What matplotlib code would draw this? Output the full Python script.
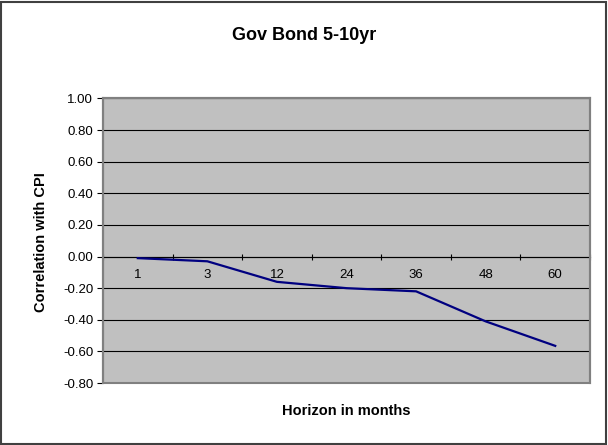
import matplotlib.pyplot as plt
from matplotlib.patches import Rectangle
from matplotlib.ticker import FixedLocator, NullFormatter

plt.rcParams["font.family"] = ["Liberation Sans", "DejaVu Sans"]

horizons = ["1", "3", "12", "24", "36", "48", "60"]
correlation = [-0.01, -0.03, -0.16, -0.20, -0.22, -0.41, -0.565]
y_ticks = [-0.8, -0.6, -0.4, -0.2, 0.0, 0.2, 0.4, 0.6, 0.8, 1.0]


def plot(output):
    fig = plt.figure(figsize=(6.08, 4.45), dpi=100)
    ax = fig.add_axes([0.1694, 0.1393, 0.801, 0.6394])
    ax.set_facecolor("#c0c0c0")

    x = range(len(horizons))
    ax.plot(x, correlation, color="#000080", lw=1.6, zorder=3)

    ax.set_xlim(-0.5, len(horizons) - 0.5)
    ax.set_ylim(-0.8, 1.0)
    ax.set_yticks(y_ticks)
    ax.set_yticklabels(["%.2f" % v for v in y_ticks], fontsize=9.5)
    ax.yaxis.grid(True, color="black", lw=0.8)
    ax.set_axisbelow(True)
    ax.tick_params(axis="y", length=4, width=0.8, color="black", pad=3)

    # category axis crosses at zero, ticks between categories
    ax.spines["bottom"].set_position(("data", 0))
    ax.spines["bottom"].set_color("black")
    ax.spines["bottom"].set_linewidth(0.8)
    ax.xaxis.set_major_locator(FixedLocator([i + 0.5 for i in range(-1, len(horizons))]))
    ax.xaxis.set_major_formatter(NullFormatter())
    ax.xaxis.set_minor_locator(FixedLocator(list(x)))
    ax.set_xticklabels(horizons, minor=True, fontsize=9.5)
    ax.tick_params(axis="x", which="major", direction="inout", length=4, width=0.8)
    ax.tick_params(axis="x", which="minor", length=0, pad=9)

    for s in ["top", "right"]:
        ax.spines[s].set_color("#808080")
        ax.spines[s].set_linewidth(1.5)
    ax.spines["left"].set_color("#606060")
    ax.spines["left"].set_linewidth(1.5)
    ax.add_patch(Rectangle((0, 0), 1, 1, transform=ax.transAxes, fill=False,
                           edgecolor="#808080", lw=1.5, clip_on=False, zorder=4))

    fig.text(0.5, 0.921, "Gov Bond 5-10yr", ha="center", va="center",
             fontsize=13, fontweight="bold")
    fig.text(0.068, 0.456, "Correlation with CPI", ha="center", va="center",
             rotation=90, fontsize=10.5, fontweight="bold")
    fig.text(0.569, 0.0764, "Horizon in months", ha="center", va="center",
             fontsize=10.5, fontweight="bold")

    fig.patches.append(Rectangle((0.002, 0.002), 0.994, 0.994, transform=fig.transFigure,
                                 fill=False, edgecolor="#404040", lw=1.5))
    fig.savefig(output, dpi=100)


if __name__ == "__main__":
    plot("out.png")
